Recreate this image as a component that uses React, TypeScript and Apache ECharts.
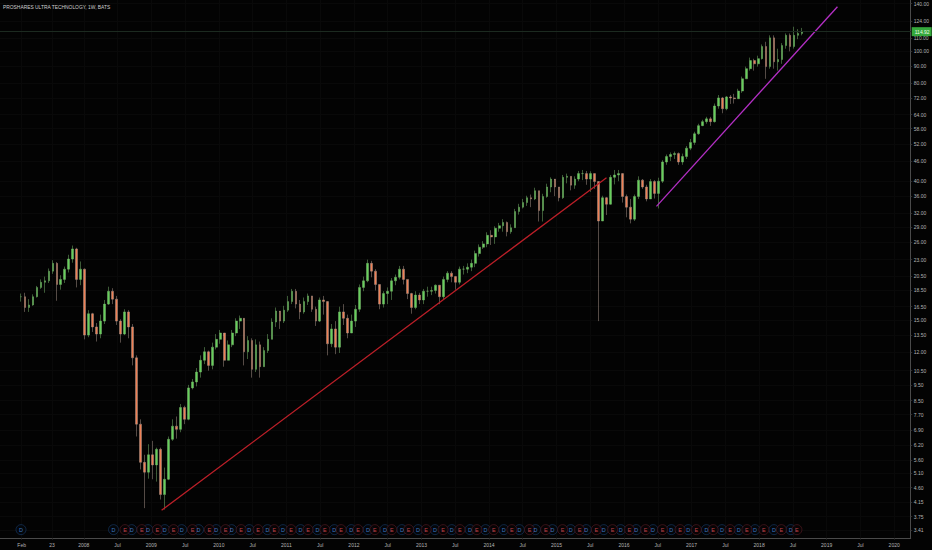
import React, { useEffect, useRef } from "react";
import * as echarts from "echarts";

const chartTitle = "PROSHARES ULTRA TECHNOLOGY, 1W, BATS";

const firstBarYear = 2007.07;
const lastBarYear = 2018.635;

const closes = [
  17.7, 16.4, 16.7, 17.7, 18.9, 19.6, 19.8, 21.2, 22.4, 19.3, 20.0, 21.5, 23.1, 24.8, 20.0, 21.5, 13.5, 15.7, 14.3, 13.6,
  14.9, 16.8, 18.4, 17.4, 14.9, 13.6, 15.9, 14.3, 11.5, 7.2, 5.5, 5.13, 5.8, 5.4, 6.03, 4.38, 4.88, 6.47, 7.1, 6.94,
  8.1, 7.45, 9.3, 9.7, 10.4, 11.3, 12.0, 10.9, 12.4, 13.1, 13.7, 11.3, 12.6, 13.7, 14.9, 15.2, 12.0, 13.0, 10.6, 12.6,
  10.8, 12.1, 13.1, 14.8, 16.0, 14.9, 16.1, 17.1, 18.4, 16.8, 15.9, 17.1, 17.8, 16.2, 14.9, 17.3, 17.1, 12.7, 14.1, 12.4,
  15.9, 15.2, 13.7, 14.9, 16.2, 18.9, 19.8, 22.4, 21.2, 19.3, 16.8, 18.1, 18.4, 19.8, 20.3, 21.5, 20.0, 18.1, 16.4, 17.9,
  17.3, 18.4, 18.4, 18.5, 19.2, 17.7, 20.0, 20.9, 20.4, 19.6, 21.5, 21.5, 21.8, 22.4, 24.0, 25.1, 25.7, 27.3, 27.0, 28.7,
  29.2, 29.9, 28.0, 28.8, 32.3, 33.3, 34.4, 35.6, 35.3, 37.4, 32.5, 35.9, 38.4, 40.6, 38.4, 35.6, 41.1, 41.4, 38.9, 40.6,
  42.2, 42.2, 40.6, 42.2, 39.9, 30.2, 35.6, 34.0, 41.1, 41.8, 42.2, 35.9, 33.3, 30.6, 35.9, 40.3, 38.4, 35.3, 39.9, 36.7,
  40.0, 45.8, 47.6, 48.3, 48.6, 45.8, 47.6, 50.5, 52.6, 55.9, 59.2, 60.9, 62.1, 60.9, 68.0, 72.0, 66.7, 72.5, 72.0, 71.6,
  75.6, 82.4, 88.5, 93.7, 91.6, 95.0, 103.5, 89.8, 110, 92.9, 94.4, 104.2, 112, 103.5, 112, 113.5, 114.92,
];

const highs = [
  18.1, 18.2, 17.4, 18.0, 19.1, 20.0, 20.4, 21.6, 22.9, 22.6, 20.6, 21.9, 23.8, 25.4, 25.0, 22.7, 21.6, 16.1, 15.8, 14.7,
  15.6, 17.3, 19.0, 18.8, 17.8, 15.1, 16.2, 16.1, 14.6, 11.7, 7.45, 5.8, 6.25, 6.4, 6.1, 6.1, 5.3, 6.6, 7.45, 7.6,
  8.3, 8.2, 9.5, 9.9, 10.7, 11.7, 12.4, 12.1, 12.8, 13.6, 14.0, 13.4, 13.0, 14.0, 15.2, 15.5, 15.0, 13.4, 13.2, 13.1,
  12.9, 12.4, 13.6, 15.2, 16.4, 15.9, 16.6, 17.8, 18.7, 18.7, 17.3, 17.6, 18.1, 17.8, 16.5, 17.6, 17.8, 16.9, 14.6, 14.9,
  16.5, 16.8, 15.6, 15.6, 16.7, 19.3, 20.4, 23.0, 22.8, 21.5, 19.3, 18.4, 18.9, 20.2, 20.7, 22.0, 22.0, 20.0, 18.2, 18.4,
  18.2, 18.7, 19.0, 19.0, 19.3, 19.1, 20.4, 21.2, 21.2, 20.5, 21.9, 22.0, 22.4, 23.0, 24.5, 25.6, 26.2, 27.9, 28.3, 29.1,
  29.8, 30.6, 30.1, 29.5, 32.9, 34.1, 35.3, 36.1, 36.4, 38.2, 37.4, 36.6, 39.3, 41.1, 40.3, 38.4, 41.8, 42.2, 41.4, 41.4,
  43.0, 43.3, 43.0, 42.9, 42.2, 39.6, 36.1, 35.8, 41.8, 43.3, 43.3, 41.8, 36.4, 35.3, 36.4, 41.4, 40.6, 39.0, 40.6, 40.3,
  41.0, 46.4, 48.3, 49.0, 49.3, 49.0, 48.6, 51.3, 53.9, 56.7, 60.0, 61.7, 63.0, 63.0, 69.2, 73.5, 72.5, 73.0, 73.5, 74.1,
  76.8, 83.7, 89.8, 95.7, 94.9, 97.0, 105, 107, 112, 112, 101.9, 106, 113.5, 113.5, 119, 117, 118,
];

const lows = [
  17.1, 15.9, 15.9, 16.6, 17.6, 18.7, 18.2, 19.5, 20.8, 17.2, 18.6, 19.5, 21.0, 22.5, 18.9, 19.2, 13.1, 13.3, 13.8, 12.9,
  13.2, 14.6, 16.7, 16.8, 14.5, 12.8, 13.5, 13.2, 10.9, 6.6, 5.23, 3.98, 4.9, 4.88, 4.8, 4.23, 3.94, 4.85, 6.4, 6.5,
  6.8, 7.2, 7.4, 9.2, 9.4, 10.0, 11.0, 10.5, 10.6, 12.2, 12.7, 10.8, 11.3, 12.4, 13.4, 14.1, 10.9, 11.4, 10.0, 10.4,
  10.0, 10.8, 11.9, 13.1, 14.3, 14.1, 14.7, 15.9, 16.8, 16.3, 15.1, 15.7, 16.7, 15.9, 14.4, 14.8, 15.6, 11.7, 12.4, 11.8,
  11.9, 14.5, 13.2, 13.7, 14.3, 15.9, 18.4, 19.6, 20.3, 18.5, 16.2, 16.4, 16.8, 17.3, 19.2, 20.0, 19.3, 17.4, 15.7, 16.2,
  16.8, 16.8, 17.7, 17.9, 18.1, 16.8, 17.3, 19.6, 19.6, 18.6, 19.3, 20.7, 20.9, 21.2, 21.8, 23.5, 24.8, 25.1, 25.5, 25.7,
  28.0, 28.0, 27.1, 27.6, 28.8, 31.6, 33.0, 33.6, 33.3, 35.0, 30.1, 30.1, 35.6, 37.0, 36.0, 34.7, 35.3, 39.4, 37.5, 37.9,
  40.0, 40.3, 39.0, 37.1, 37.9, 14.9, 30.3, 31.5, 33.9, 39.1, 40.0, 34.4, 31.0, 29.7, 30.2, 35.3, 37.9, 34.7, 35.3, 35.4,
  33.0, 39.5, 44.9, 46.1, 46.8, 44.9, 44.9, 46.8, 49.8, 51.7, 55.5, 59.0, 60.0, 59.1, 60.5, 66.7, 64.6, 66.0, 69.0, 69.2,
  71.6, 74.6, 82.4, 87.3, 87.3, 89.8, 94.4, 82.4, 88.5, 88.5, 87.3, 91.6, 101.9, 100, 102, 109, 112,
];

const dividendYears = [
  2007.07, 2008.44, 2008.71, 2008.95, 2009.2, 2009.45, 2009.7, 2009.96, 2010.19, 2010.45, 2010.72, 2010.95, 2011.21, 2011.46,
  2011.71, 2011.96, 2012.21, 2012.46, 2012.71, 2012.95, 2013.2, 2013.45, 2013.72, 2013.95, 2014.22, 2014.45, 2014.69, 2014.94,
  2015.21, 2015.44, 2015.7, 2015.95, 2016.18, 2016.43, 2016.7, 2016.95, 2017.22, 2017.45, 2017.7, 2017.94, 2018.22, 2018.47,
];

const earningsYears = [
  2008.61, 2008.86, 2009.09, 2009.33, 2009.61, 2009.86, 2010.1, 2010.33, 2010.58, 2010.82, 2011.07, 2011.32, 2011.57, 2011.81,
  2012.06, 2012.31, 2012.56, 2012.81, 2013.07, 2013.32, 2013.57, 2013.82, 2014.07, 2014.34, 2014.6, 2014.84, 2015.09, 2015.34,
  2015.59, 2015.83, 2016.08, 2016.32, 2016.57, 2016.83, 2017.07, 2017.32, 2017.57, 2017.82, 2018.07, 2018.33, 2018.56,
];

const markerPrice = 3.42;
const lastPrice = 114.92;

const redTrendYears = [2009.152, 2015.74];
const redTrendPrices = [3.92, 41];
const purpleTrendYears = [2016.48, 2019.16];
const purpleTrendPrices = [33.5, 137];

const priceTicks = [
  140, 124, 110, 100, 90, 80, 72, 64, 58, 52, 46, 40, 36, 32, 29, 26, 23, 20.5, 18.5, 16.5, 15, 13.5, 12, 10.5, 9.5, 8.5, 7.7,
  6.9, 6.2, 5.6, 5.1, 4.6, 4.15, 3.75, 3.41,
];

const timeTickYears = [
  2007.08, 2007.53, 2008, 2008.5, 2009, 2009.5, 2010, 2010.5, 2011, 2011.5, 2012, 2012.5, 2013, 2013.5, 2014, 2014.5, 2015,
  2015.5, 2016, 2016.5, 2017, 2017.5, 2018, 2018.5, 2019, 2019.5, 2020,
];
const timeTickLabels = [
  "Feb", "23", "2008", "Jul", "2009", "Jul", "2010", "Jul", "2011", "Jul", "2012", "Jul", "2013", "Jul", "2014", "Jul", "2015",
  "Jul", "2016", "Jul", "2017", "Jul", "2018", "Jul", "2019", "Jul", "2020",
];

const UP = "#66d05c";
const DOWN = "#f08055";

export default function App() {
  const ref = useRef<HTMLDivElement>(null);

  useEffect(() => {
    document.body.style.margin = "0";
    document.body.style.background = "#030303";
    const chart = echarts.init(ref.current!, undefined, { renderer: "svg" });
    const step = (lastBarYear - firstBarYear) / (closes.length - 1);
    const candles = closes.map((c, i) => [
      firstBarYear + i * step,
      i === 0 ? c : closes[i - 1],
      c,
      lows[i],
      highs[i],
    ]);
    const lineFont = { fontFamily: "Liberation Sans, Arial, sans-serif" };
    const gridColor = "#090909";
    const axisColor = "#4a4a4a";
    chart.setOption({
      animation: false,
      backgroundColor: "#030303",
      title: {
        text: chartTitle,
        left: 3,
        top: 5,
        padding: 0,
        textStyle: { color: "#d0d0d0", fontSize: 4.9, fontWeight: "normal", ...lineFont },
      },
      grid: { left: 0, right: 19, top: 0, bottom: 12 },
      xAxis: {
        type: "value",
        min: 2006.759,
        max: 2020.245,
        axisLine: { show: true, lineStyle: { color: axisColor } },
        axisTick: { show: true, length: 1.5, lineStyle: { color: "#2e2e2e" }, customValues: timeTickYears },
        axisLabel: {
          customValues: timeTickYears,
          color: "#b4b4b4",
          fontSize: 5,
          margin: 4,
          ...lineFont,
          formatter: (v: number) => {
            const i = timeTickYears.findIndex((t) => Math.abs(t - v) < 1e-6);
            return i >= 0 ? timeTickLabels[i] : "";
          },
        },
        splitLine: { show: true, lineStyle: { color: gridColor, width: 1 } },
      },
      yAxis: {
        type: "log",
        logBase: 10,
        min: 3.224,
        max: 143.7,
        position: "right",
        axisLine: { show: true, lineStyle: { color: axisColor } },
        axisTick: { show: true, length: 1.5, lineStyle: { color: "#2e2e2e" }, customValues: priceTicks },
        axisLabel: {
          customValues: priceTicks,
          color: "#b4b4b4",
          fontSize: 5,
          margin: 3,
          ...lineFont,
          formatter: (v: number) => Number(v).toFixed(2),
        },
        splitLine: { show: true, lineStyle: { color: gridColor, width: 1 } },
      },
      series: [
        {
          type: "candlestick",
          data: candles,
          barWidth: 2.2,
          itemStyle: {
            color: UP,
            color0: DOWN,
            borderColor: "#78b56c",
            borderColor0: "#a8948a",
            borderWidth: 0.5,
          },
          markLine: {
            silent: true,
            symbol: "none",
            animation: false,
            lineStyle: { color: "#1c2a20", width: 1, type: "solid" },
            label: {
              show: true,
              position: "end",
              distance: 1,
              formatter: lastPrice.toFixed(2),
              backgroundColor: "#35a83c",
              color: "#eafbe6",
              fontSize: 5,
              padding: [2, 2, 2, 3],
              ...lineFont,
            },
            data: [{ yAxis: lastPrice }],
          },
        },
        {
          type: "line",
          data: redTrendYears.map((y, i) => [y, redTrendPrices[i]]),
          symbol: "none",
          lineStyle: { color: "#bb1f28", width: 1.3 },
        },
        {
          type: "line",
          data: purpleTrendYears.map((y, i) => [y, purpleTrendPrices[i]]),
          symbol: "none",
          lineStyle: { color: "#b32fc4", width: 1.3 },
        },
        {
          type: "scatter",
          data: dividendYears.map((y) => [y, markerPrice]),
          symbol: "circle",
          symbolSize: 10,
          itemStyle: { color: "#04070c", borderColor: "#173a66", borderWidth: 0.8 },
          label: { show: true, position: "inside", formatter: "D", color: "#4a96ea", fontSize: 5.5, ...lineFont },
        },
        {
          type: "scatter",
          data: earningsYears.map((y) => [y, markerPrice]),
          symbol: "circle",
          symbolSize: 10,
          itemStyle: { color: "#0a0405", borderColor: "#561c24", borderWidth: 0.8 },
          label: { show: true, position: "inside", formatter: "E", color: "#e8555f", fontSize: 5.5, ...lineFont },
        },
      ],
    });
    return () => chart.dispose();
  }, []);

  return <div ref={ref} style={{ position: "absolute", left: 0, top: 0, width: 932, height: 550 }} />;
}
